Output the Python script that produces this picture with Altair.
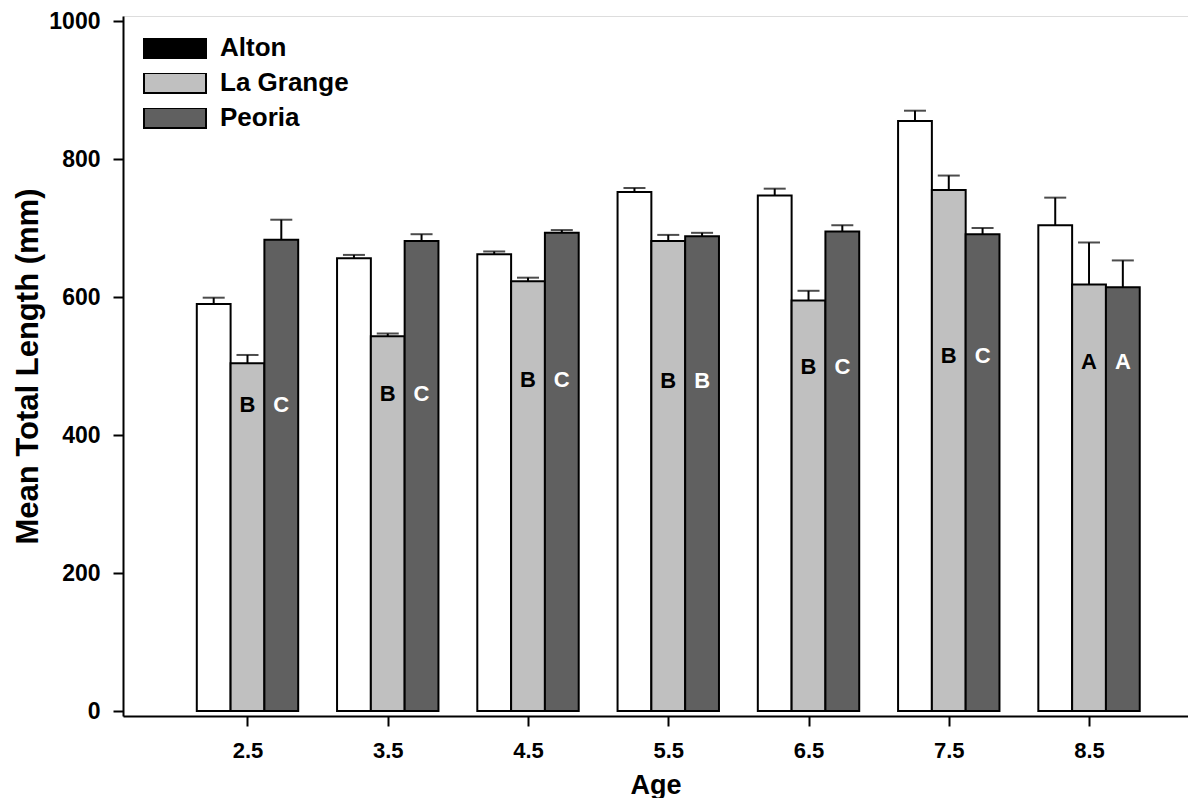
import altair as alt
import pandas as pd

# ---- data ----
sites = ["Alton", "La Grange", "Peoria"]
ages = [2.5, 3.5, 4.5, 5.5, 6.5, 7.5, 8.5]

alton_mean = [590, 656, 662, 752, 747, 855, 704]
alton_se = [9, 5, 4, 6, 10, 15, 40]
lagrange_mean = [504, 543, 623, 681, 595, 755, 618]
lagrange_se = [12, 4, 5, 9, 14, 21, 61]
peoria_mean = [683, 681, 693, 688, 695, 691, 614]
peoria_se = [29, 10, 4, 5, 9, 9, 39]

alton_letters = ["", "", "", "", "", "", ""]
lagrange_letters = ["B", "B", "B", "B", "B", "B", "A"]
peoria_letters = ["C", "C", "C", "B", "C", "C", "A"]
letter_height = [444, 459, 480, 478, 499, 515, 506]

y_ticks = [0, 200, 400, 600, 800, 1000]

means = [alton_mean, lagrange_mean, peoria_mean]
ses = [alton_se, lagrange_se, peoria_se]
letters = [alton_letters, lagrange_letters, peoria_letters]

rows = []
for si, site in enumerate(sites):
    for ai, age in enumerate(ages):
        rows.append({
            "site": site,
            "idx": si,
            "age": age,
            "mean": means[si][ai],
            "se": ses[si][ai],
            "letter": letters[si][ai],
            "ly": letter_height[ai],
        })
df = pd.DataFrame(rows)

BAR_W = 0.241
FONT = "Liberation Sans"

base = alt.Chart(df).transform_calculate(
    xc=f"datum.age + (datum.idx - 1) * {BAR_W}",
    x0=f"datum.age + (datum.idx - 1) * {BAR_W} - {BAR_W / 2}",
    x1=f"datum.age + (datum.idx - 1) * {BAR_W} + {BAR_W / 2}",
    upper="datum.mean + datum.se",
)

xscale = alt.Scale(domain=[1.648, 9.17], nice=False, zero=False)
yscale = alt.Scale(domain=[0, 1000], nice=False)

xaxis = alt.Axis(
    values=ages, format=".1f", title="Age", grid=False,
    tickSize=10, tickWidth=2, tickColor="black",
    domainColor="black", domainWidth=2,
    labelFont=FONT, labelFontSize=22, labelFontWeight="bold", labelColor="black",
    labelPadding=14,
    titleFont=FONT, titleFontSize=27, titleFontWeight="bold", titleColor="black",
    titlePadding=11,
)
yaxis = alt.Axis(
    values=y_ticks, format="d", title="Mean Total Length (mm)", grid=False,
    tickSize=10, tickWidth=2, tickColor="black",
    domainColor="black", domainWidth=2,
    labelFont=FONT, labelFontSize=23, labelFontWeight="bold", labelColor="black",
    labelPadding=13,
    titleFont=FONT, titleFontSize=31, titleFontWeight="bold", titleColor="black",
    titlePadding=4,
)

bars = base.mark_bar(stroke="black", strokeWidth=2, orient="vertical").encode(
    x=alt.X("x0:Q", scale=xscale, axis=xaxis),
    x2="x1:Q",
    y=alt.Y("mean:Q", scale=yscale, axis=yaxis),
    y2=alt.datum(0),
    fill=alt.Fill("site:N", scale=alt.Scale(domain=sites, range=["white", "#c0c0c0", "#606060"]), legend=None),
)

err = base.mark_rule(color="black", strokeWidth=2).encode(
    x="xc:Q", y="mean:Q", y2="upper:Q",
)
caps = base.mark_tick(color="black", orient="horizontal", size=22, thickness=2).encode(
    x="xc:Q", y="upper:Q",
)

labels = base.transform_filter("datum.letter != ''").mark_text(
    font=FONT, fontSize=22, fontWeight="bold", baseline="middle", align="center"
).encode(
    x="xc:Q", y="ly:Q", text="letter:N",
    color=alt.condition(alt.datum.site == "Peoria", alt.value("white"), alt.value("black")),
)

legend_layer = base.transform_filter("false").mark_bar().encode(
    x="x0:Q", x2="x1:Q", y="mean:Q",
    color=alt.Color(
        "site:N",
        scale=alt.Scale(domain=sites, range=["black", "#c0c0c0", "#606060"]),
        legend=alt.Legend(
            title=None, orient="none", legendX=20, legendY=22,
            symbolType="M-1,-0.32L1,-0.32L1,0.32L-1,0.32Z", symbolSize=3844,
            symbolStrokeColor="black", symbolStrokeWidth=2, symbolOpacity=1,
            clipHeight=20, rowPadding=9, labelOffset=13,
            labelFont=FONT, labelFontSize=26, labelFontWeight="bold", labelColor="black",
        ),
    ),
)

chart = alt.layer(err, caps, bars, labels, legend_layer).resolve_scale(
    fill="independent", color="independent"
).properties(
    width=1180, height=790,
    autosize=alt.AutoSizeParams(type="fit", contains="padding"),
    padding={"left": 4, "top": 1, "right": 0, "bottom": 0},
).configure_view(stroke=None).configure(background="white")

chart.save("out.html", embed_options={"renderer": "svg", "actions": False})
